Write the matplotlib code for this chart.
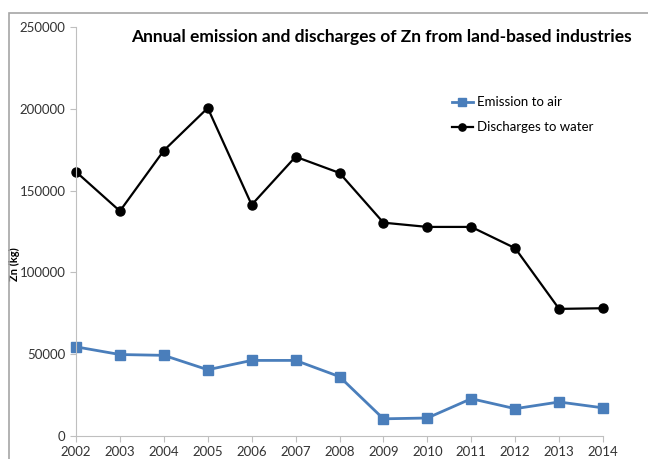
import matplotlib.pyplot as plt
from matplotlib.patches import Rectangle

years = [2002, 2003, 2004, 2005, 2006, 2007, 2008, 2009, 2010, 2011, 2012, 2013, 2014]
emission_air = [54500, 49800, 49300, 40500, 46200, 46200, 36300, 10500, 11000, 22800, 16700, 20800, 17200]
discharges_water = [161500, 137500, 174500, 200500, 141300, 170700, 160800, 130400, 127800, 127800, 114800, 77700, 78100]

plt.rcParams['font.family'] = ['Lato', 'DejaVu Sans']

fig = plt.figure(figsize=(6.48, 4.59), dpi=100)
fig.patches.append(Rectangle((9 / 648, -0.1), 1.0, 1 - 13 / 459 + 0.1, transform=fig.transFigure,
                             fill=False, edgecolor='#a6a6a6', linewidth=1.2))

ax = fig.add_axes([76 / 648, 23 / 459, 527 / 648, 409 / 459])
ax.plot(years, emission_air, color='#4a7ebb', linewidth=2, marker='s', markersize=7,
        markerfacecolor='#4a7ebb', markeredgecolor='#4a7ebb', label='Emission to air', clip_on=False)
ax.plot(years, discharges_water, color='black', linewidth=1.6, marker='o', markersize=6.5,
        label='Discharges to water', clip_on=False)

ax.set_xlim(2002, 2014)
ax.set_ylim(0, 250000)
ax.set_xticks(years)
ax.set_yticks(range(0, 250001, 50000))
ax.tick_params(axis='both', labelsize=9.5, colors='#bfbfbf', labelcolor='#333333', length=4)
for s in ['top', 'right']:
    ax.spines[s].set_visible(False)
for s in ['left', 'bottom']:
    ax.spines[s].set_color('#bfbfbf')
ax.set_ylabel('Zn (kg)', fontsize=8, fontweight='bold')
ax.yaxis.set_label_coords((20 - 76) / 527, 0.42)

ax.text(0.58, 0.975, 'Annual emission and discharges of Zn from land-based industries',
        transform=ax.transAxes, ha='center', va='center', fontsize=12.5, fontweight='bold')

ax.legend(loc='upper left', bbox_to_anchor=(0.69, 0.86), frameon=False, fontsize=9.5,
          handlelength=1.6, handletextpad=0.3, labelspacing=1.0, markerscale=0.8)

fig.savefig('out.png', dpi=100)
